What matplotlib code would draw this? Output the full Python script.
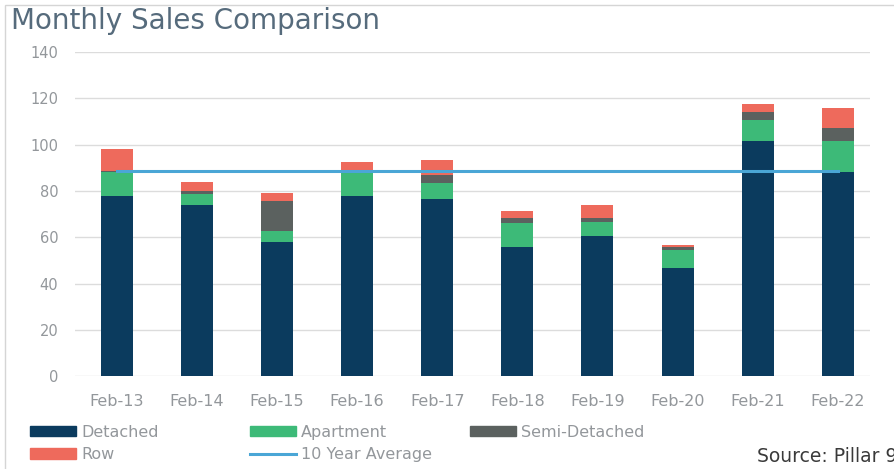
import numpy as np
import matplotlib.pyplot as plt
from matplotlib.patches import Rectangle, Patch
from matplotlib.lines import Line2D

# Data
months = ['Feb-13', 'Feb-14', 'Feb-15', 'Feb-16', 'Feb-17',
          'Feb-18', 'Feb-19', 'Feb-20', 'Feb-21', 'Feb-22']
detached = [78, 74, 58, 78, 76.5, 56, 60.5, 46.5, 101.5, 88]
apartment = [10, 4.5, 4.5, 10, 7, 10, 6, 8, 9, 13.5]
semi_detached = [0.5, 1.5, 13, 1, 3.5, 2.5, 2, 1.2, 3.5, 5.5]
row = [9.5, 4, 3.5, 3.5, 6.5, 3, 5.5, 0.8, 3.5, 9]
ten_year_avg = [88.5] * len(months)

c_det = '#0b3b5e'
c_apt = '#3dba78'
c_semi = '#5b615f'
c_row = '#ee6a5c'
c_avg = '#4aa6d6'
c_text = '#93979b'

fig = plt.figure(figsize=(8.94, 4.69), dpi=100)
ax = fig.add_axes([0.084, 0.198, 0.889, 0.691])

x = np.arange(len(months))
w = 0.4
d = np.array(detached)
a = np.array(apartment)
s = np.array(semi_detached)
r = np.array(row)

ax.bar(x, d, w, color=c_det, zorder=2)
ax.bar(x, a, w, bottom=d, color=c_apt, zorder=2)
ax.bar(x, s, w, bottom=d + a, color=c_semi, zorder=2)
ax.bar(x, r, w, bottom=d + a + s, color=c_row, zorder=2)
ax.plot(x, ten_year_avg, color=c_avg, lw=2.2, zorder=3)

ax.set_xlim(-0.52, 9.4)
ax.set_ylim(0, 140)
ax.set_yticks(range(0, 141, 20))
ax.set_xticks(x)
ax.set_xticklabels(months)
ax.grid(axis='y', color='#dcdcdc', lw=1, zorder=0)
for sp in ax.spines.values():
    sp.set_visible(False)
ax.tick_params(length=0, colors=c_text)
ax.tick_params(axis='x', pad=13, labelsize=11.5)
ax.tick_params(axis='y', pad=12, labelsize=10.5)

# legend: three columns placed by hand (x in pixels of the figure)
cols = [
    (30, [Patch(color=c_det), Patch(color=c_row)], ['Detached', 'Row']),
    (250, [Patch(color=c_apt), Line2D([], [], color=c_avg, lw=2.2)],
     ['Apartment', '10 Year Average']),
    (470, [Patch(color=c_semi)], ['Semi-Detached']),
]
for px, handles, labels in cols:
    leg = fig.legend(handles, labels, loc='upper left',
                     bbox_to_anchor=(px / 894, 1 - 425 / 469),
                     frameon=False, fontsize=11.5, handlelength=2.9,
                     handleheight=0.6, handletextpad=0.3, labelspacing=0.45,
                     borderpad=0, borderaxespad=0)
    for t in leg.get_texts():
        t.set_color(c_text)

fig.text(0.012, 0.955, 'Monthly Sales Comparison', fontsize=20,
         color='#566b7c', va='center', ha='left')
fig.text(757 / 894, 1 - 456 / 469, 'Source: Pillar 9', fontsize=13.5,
         color='#3a3a3a', va='center', ha='left')

fig.patches.append(Rectangle((0.006, -0.01), 1.1, 1.0, transform=fig.transFigure,
                             fill=False, ec='#d5d5d5', lw=1))

fig.savefig('out.png', dpi=100)
